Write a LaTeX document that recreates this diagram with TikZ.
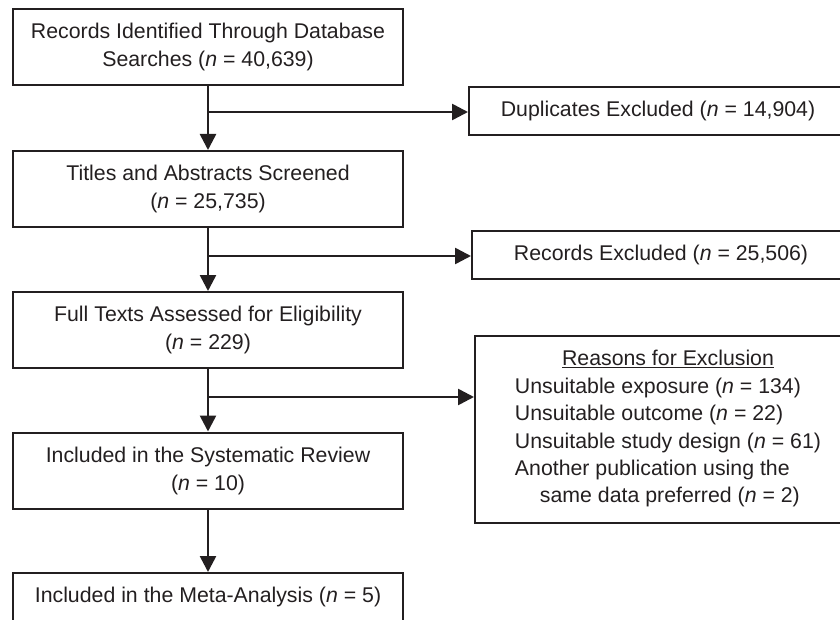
\documentclass[tikz,border=0pt]{standalone}
\usepackage{fontspec}
\setmainfont{Liberation Sans}
\usetikzlibrary{arrows.meta}
\definecolor{ink}{RGB}{35,31,32}
\begin{document}
\begin{tikzpicture}[x=1pt,y=-1pt,
  box/.style={draw=ink, text=ink, line width=2pt, minimum width=390pt, minimum height=76pt,
    align=center, inner sep=0pt, font=\fontsize{21.3}{28}\selectfont},
  shortbox/.style={box, minimum height=48pt},
  sidebox/.style={draw=ink, text=ink, line width=2pt, minimum width=378pt, minimum height=48pt,
    align=center, inner sep=0pt, font=\fontsize{21.3}{28}\selectfont},
  arr/.style={draw=ink, line width=2.6pt, -{Triangle[length=16pt,width=16pt]}}]
\useasboundingbox (0,0) rectangle (840,620);

\node[box] (b1) at (208,47) {Records Identified Through Database\\Searches (\textit{n} = 40,639)};
\node[box] (b2) at (208,189) {Titles and Abstracts Screened\\(\textit{n} = 25,735)};
\node[box] (b3) at (208,330) {Full Texts Assessed for Eligibility\\(\textit{n} = 229)};
\node[box] (b4) at (208,470.5) {Included in the Systematic Review\\(\textit{n} = 10)};
\node[shortbox] (b5) at (208,597) {Included in the Meta-Analysis (\textit{n} = 5)};

\node[sidebox] (d) at (658,111) {Duplicates Excluded (\textit{n} = 14,904)};
\node[sidebox] (r) at (661,255) {Records Excluded (\textit{n} = 25,506)};
\node[sidebox, minimum width=386pt, minimum height=187pt, font=\fontsize{21.3}{27.4}\selectfont] (x) at (668,429)
 {\begin{tabular}{@{}l@{}}
  \multicolumn{1}{@{}c@{}}{\underline{Reasons for Exclusion}}\\
  Unsuitable exposure (\textit{n} = 134)\\
  Unsuitable outcome (\textit{n} = 22)\\
  Unsuitable study design (\textit{n} = 61)\\
  Another publication using the\\
  \hspace{25pt}same data preferred (\textit{n} = 2)
  \end{tabular}};

\coordinate (j1) at (208,112);
\coordinate (j2) at (208,256);
\coordinate (j3) at (208,397);

\draw[arr] (b1) -- (b2);
\draw[arr] (b2) -- (b3);
\draw[arr] (b3) -- (b4);
\draw[arr] (b4) -- (b5);
\draw[arr] (j1) -- (j1 -| d.west);
\draw[arr] (j2) -- (j2 -| r.west);
\draw[arr] (j3) -- (j3 -| x.west);
\end{tikzpicture}
\end{document}
